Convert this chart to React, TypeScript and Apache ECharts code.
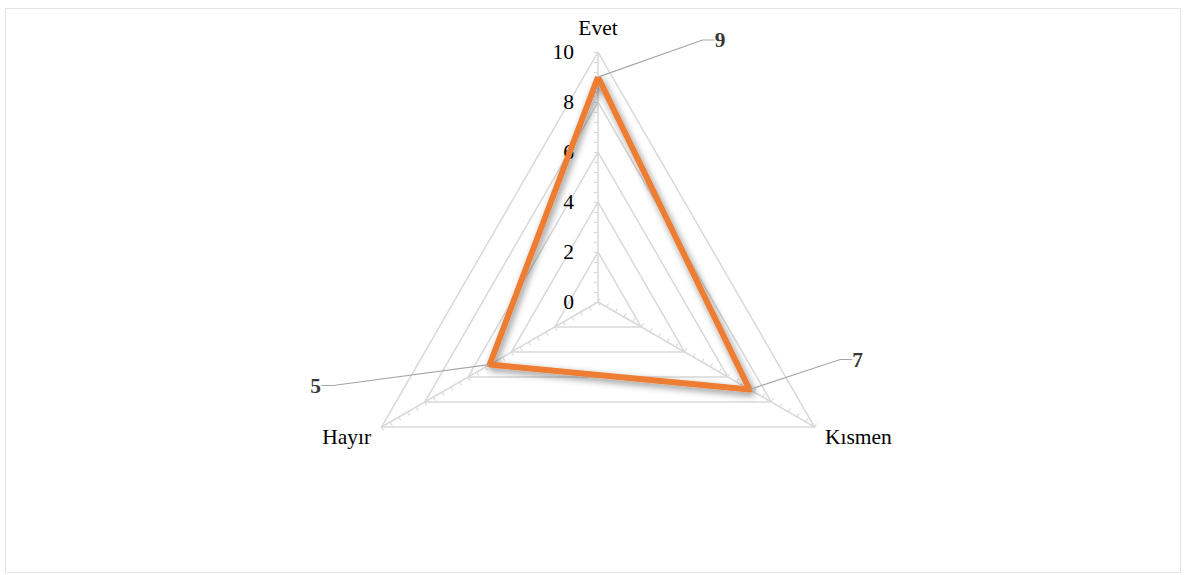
import React, { useEffect, useRef } from "react";
import * as echarts from "echarts";

const categories = ["Evet", "Hayır", "Kısmen"];
const values = [9, 5, 7];
const axisMax = 10;
const axisInterval = 2;

// label offsets (px) from each point to its data label centre
const labelOffsets = [
  [122, -37],
  [-174, 21],
  [108, -30],
];

const FONT = "'Liberation Serif', 'Times New Roman', serif";
const GRID = "#D9D9D9";
const FS = 21.5;

export default function App() {
  const ref = useRef<HTMLDivElement>(null);
  useEffect(() => {
    document.body.style.margin = "0";
    const chart = echarts.init(ref.current!, undefined, { renderer: "svg" });
    const center = [598, 302];
    const radius = 250;
    const polars = categories.map(() => ({ center, radius: [0, radius] }));
    const angleAxes = categories.map((_, i) => ({
      polarIndex: i,
      type: "value",
      min: 0,
      max: 360,
      startAngle: 90 + i * 120,
      clockwise: false,
      axisLine: { show: false },
      axisTick: { show: false },
      axisLabel: { show: false },
      splitLine: { show: false },
    }));
    const radiusAxes = categories.map((_, i) => ({
      polarIndex: i,
      type: "value",
      min: 0,
      max: axisMax,
      interval: axisInterval,
      axisLine: { show: false },
      axisTick: { show: true, length: 4, lineStyle: { color: GRID, width: 1.2 } },
      minorTick: { show: true, splitNumber: 5, length: 4, lineStyle: { color: GRID, width: 1.2 } },
      axisLabel: {
        show: i === 0,
        color: "#000",
        fontFamily: FONT,
        fontSize: FS,
        margin: 24,
      },
      splitLine: { show: false },
    }));
    chart.setOption({
      animation: false,
      backgroundColor: "#fff",
      graphic: [
        {
          type: "rect",
          shape: { x: 5.5, y: 8.5, width: 1175, height: 564 },
          style: { fill: "none", stroke: "#E3E3E3", lineWidth: 1 },
          z: -10,
        },
      ],
      radar: {
        center,
        radius,
        startAngle: 90,
        shape: "polygon",
        splitNumber: 5,
        nameGap: 12,
        indicator: categories.map((name) => ({ name, min: 0, max: axisMax })),
        axisName: {
          color: "#000",
          fontFamily: FONT,
          fontSize: FS,
          formatter: (name: string) => `{s| }\n{n|${name}}`,
          rich: {
            s: { fontSize: 2, lineHeight: 8 },
            n: { color: "#000", fontFamily: FONT, fontSize: FS, lineHeight: 24 },
          },
        },
        splitLine: { lineStyle: { color: GRID, width: 1.5 } },
        splitArea: { show: false },
        axisLine: { lineStyle: { color: GRID, width: 1.5 } },
        axisTick: { show: false },
        axisLabel: { show: false },
      },
      polar: polars,
      angleAxis: angleAxes,
      radiusAxis: radiusAxes,
      series: [
        {
          type: "radar",
          symbol: "none",
          data: [{ value: values, name: "Seri" }],
          lineStyle: {
            color: "#ED7D31",
            width: 6,
            shadowColor: "rgba(0,0,0,0.45)",
            shadowBlur: 7,
            shadowOffsetX: 2,
            shadowOffsetY: 3,
          },
          areaStyle: { opacity: 0 },
          z: 3,
        },
        {
          type: "scatter",
          coordinateSystem: "polar",
          polarIndex: 0,
          symbolSize: 1,
          itemStyle: { color: "transparent" },
          data: values.map((v, i) => [v, i * 120]),
          label: {
            show: true,
            position: "inside",
            formatter: (p: any) => String(p.value[0]),
            color: "#000",
            fontFamily: FONT,
            fontSize: FS,
            fontWeight: "bold",
          },
          labelLayout: (p: any) => ({
            dx: labelOffsets[p.dataIndex][0],
            dy: labelOffsets[p.dataIndex][1],
          }),
          labelLine: {
            show: true,
            length2: 12,
            lineStyle: { color: "#A6A6A6", width: 1.2 },
          },
          z: 5,
        },
      ],
    });
    return () => chart.dispose();
  }, []);
  return <div ref={ref} style={{ width: 1184, height: 575 }} />;
}
